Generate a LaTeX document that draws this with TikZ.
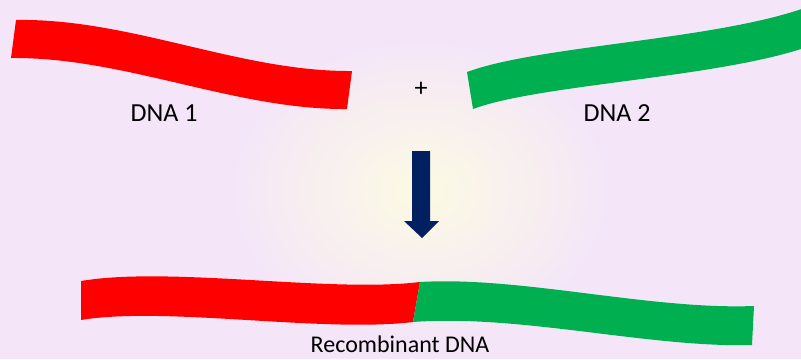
\documentclass[tikz,border=0pt]{standalone}
\usepackage{fontspec}
\setmainfont{Carlito}
\definecolor{dnared}{RGB}{255,0,0}
\definecolor{dnagreen}{RGB}{0,176,80}
\definecolor{navy}{RGB}{0,32,96}
\definecolor{bglav}{RGB}{244,230,248}
\definecolor{bgyel}{RGB}{252,250,228}
\begin{document}
\begin{tikzpicture}[x=1pt,y=-1pt,
  lbl/.style={inner sep=0pt,font=\fontsize{26}{30}\selectfont,text=black},
  lblsmall/.style={inner sep=0pt,font=\fontsize{24}{28}\selectfont,text=black}]
\useasboundingbox (0,0) rectangle (801,359);
\begin{scope}
\clip (0,0) rectangle (801,359);
\fill[bglav] (0,0) rectangle (801,359);
\shade[inner color=bgyel,outer color=bglav] (420,190) ellipse [x radius=190,y radius=150];
% DNA 1
\fill[dnared] (16,20) .. controls (130,18) and (240,72) .. (352,71) -- (347,109) .. controls (235,110) and (125,57) .. (11,58) -- cycle;
% DNA 2
\fill[dnagreen] (467,72) .. controls (540,45) and (720,40) .. (810,6) -- (810,46) .. controls (720,78) and (540,84) .. (473,109) -- cycle;
% recombinant
\fill[dnared] (81,281) .. controls (170,266) and (330,293) .. (420,282) -- (413,322) .. controls (323,333) and (165,306) .. (81,320) -- cycle;
\fill[dnagreen] (420,282) .. controls (520,276) and (650,310) .. (754,306) -- (752,345) .. controls (650,348) and (520,314) .. (413,322) -- cycle;
% arrow
\fill[navy] (412,151) -- (430,151) -- (430,221) -- (439,221) -- (422,238) -- (404,221) -- (412,221) -- cycle;
\end{scope}
\node[lbl] (dna1) at (164,113) {DNA 1};
\node[lbl] (dna2) at (617,113) {DNA 2};
\node[lbl] (plus) at (421,89) {+};
\node[lblsmall,anchor=base] (rec) at (400,352) {Recombinant DNA};
\end{tikzpicture}
\end{document}
